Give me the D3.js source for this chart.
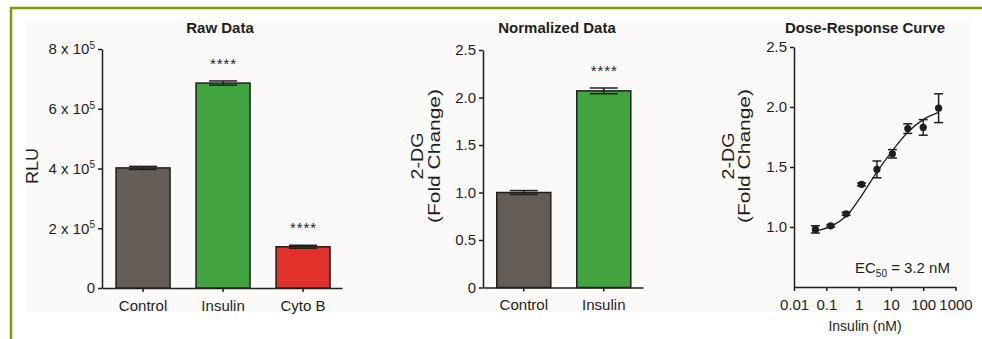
<!DOCTYPE html>
<html>
<head>
<meta charset="utf-8">
<script src="https://cdn.jsdelivr.net/npm/d3@7"></script>
<style>
body{margin:0;background:#fff;}
text{font-family:"Liberation Sans",Arial,sans-serif;fill:#1e1e1e;}
.axis path,.axis line{stroke:#1e1e1e;stroke-width:1.5px;}
</style>
</head>
<body>
<svg id="fig" width="982" height="339"></svg>
<script>
// panel 1 - raw data
const rawCats=["Control","Insulin","Cyto B"];
const rawVals=[402000,686000,138000];
const rawErr=[5000,7000,5000];
const rawStars=["","****","****"];
const rawTicks=[0,200000,400000,600000,800000];
// panel 2 - normalized
const normCats=["Control","Insulin"];
const normVals=[1.0,2.07];
const normErr=[0.02,0.03];
const normStars=["","****"];
const normTicks=[0,0.5,1.0,1.5,2.0,2.5];
// panel 3 - dose response
const doses=[0.046,0.137,0.41,1.23,3.7,11.1,33.3,100,300];
const doseMeans=[0.98,1.01,1.11,1.355,1.48,1.61,1.82,1.83,1.99];
const doseErr=[0.03,0.01,0.012,0.012,0.07,0.035,0.04,0.065,0.12];
const fitDoses=[0.046,0.137,0.41,1.23,3.7,11.1,33.3,100,300];
const fitVals=[0.965,1.005,1.09,1.26,1.46,1.635,1.79,1.895,1.955];
const doseTicks=[0.01,0.1,1,10,100,1000];
const doseYTicks=[1.0,1.5,2.0,2.5];

const barColors={"Control":"#635c57","Insulin":"#41a43e","Cyto B":"#e1312a"};

const svg=d3.select("#fig");

// frame
svg.append("rect").attr("x",26).attr("y",20).attr("width",944).attr("height",292).attr("fill","#fbfaf8");
svg.append("line").attr("x1",10).attr("x2",982).attr("y1",8).attr("y2",8).attr("stroke","#7a9c06").attr("stroke-width",2.5);
svg.append("line").attr("x1",11).attr("x2",11).attr("y1",7).attr("y2",339).attr("stroke","#7a9c06").attr("stroke-width",2.5);

function barPanel(opt){
  const g=svg.append("g");
  const x=d3.scaleBand().domain(opt.cats).range(opt.xr).paddingInner(0.325).paddingOuter(0.1625).align(opt.align);
  const y=d3.scaleLinear().domain(opt.yd).range(opt.yr);

  const xa=g.append("g").attr("class","axis").attr("transform","translate(0,"+opt.yr[0]+")")
    .call(d3.axisBottom(x).tickSize(4).tickSizeOuter(0));
  xa.selectAll("text").attr("font-size",15).attr("dy","1.05em");
  const ya=g.append("g").attr("class","axis").attr("transform","translate("+opt.xr[0]+",0)")
    .call(d3.axisLeft(y).tickValues(opt.ticks).tickSize(4).tickSizeOuter(0).tickFormat(opt.fmt));
  ya.selectAll("text").attr("font-size",15).attr("x",-7);
  if(opt.sup){
    ya.selectAll("text").each(function(d){
      if(d===0) return;
      const t=d3.select(this).text("");
      t.append("tspan").text((d/1e5)+" x 10");
      t.append("tspan").text("5").attr("font-size",10).attr("dy","-0.55em");
    });
  }

  opt.cats.forEach(function(c,i){
    const bx=x(c), bw=x.bandwidth(), cx=bx+bw/2;
    g.append("rect").attr("x",bx).attr("y",y(opt.vals[i])).attr("width",bw)
      .attr("height",y(0)-y(opt.vals[i])).attr("fill",barColors[c]).attr("stroke","#1e1e1e").attr("stroke-width",1.5);
    const e=opt.errs[i], cw=14;
    g.append("line").attr("x1",cx).attr("x2",cx).attr("y1",y(opt.vals[i]-e)).attr("y2",y(opt.vals[i]+e)).attr("stroke","#1e1e1e").attr("stroke-width",1.5);
    [opt.vals[i]-e,opt.vals[i]+e].forEach(function(v){
      g.append("line").attr("x1",cx-cw).attr("x2",cx+cw).attr("y1",y(v)).attr("y2",y(v)).attr("stroke","#1e1e1e").attr("stroke-width",1.5);
    });
    if(opt.stars[i]){
      g.append("text").attr("x",cx).attr("y",y(opt.vals[i]+e)-12).attr("text-anchor","middle")
        .attr("font-size",15).attr("textLength",26).attr("lengthAdjust","spacing").text(opt.stars[i]);
    }
  });

  g.append("text").attr("x",opt.titleX).attr("y",33).attr("text-anchor","middle")
    .attr("font-size",15).attr("font-weight","bold").text(opt.title);
  return g;
}

barPanel({cats:rawCats,vals:rawVals,errs:rawErr,stars:rawStars,ticks:rawTicks,
  xr:[102,342],yr:[288,49],yd:[0,800000],align:0.54,sup:true,
  fmt:function(d){return d===0?"0":d;},title:"Raw Data",titleX:220});

barPanel({cats:normCats,vals:normVals,errs:normErr,stars:normStars,ticks:normTicks,
  xr:[483,643],yr:[287.5,50],yd:[0,2.5],align:0.53,sup:false,
  fmt:function(d){return d===0?"0":d3.format(".1f")(d);},title:"Normalized Data",titleX:557});

// y titles
svg.append("text").attr("transform","translate(38,166) rotate(-90)").attr("text-anchor","middle")
  .attr("font-size",16).attr("textLength",36).attr("lengthAdjust","spacingAndGlyphs").text("RLU");
[[423,440],[734,750]].forEach(function(p){
  svg.append("text").attr("transform","translate("+p[0]+",156) rotate(-90)").attr("text-anchor","middle")
    .attr("font-size",16).attr("textLength",47).attr("lengthAdjust","spacingAndGlyphs").text("2-DG");
  svg.append("text").attr("transform","translate("+p[1]+",156) rotate(-90)").attr("text-anchor","middle")
    .attr("font-size",16).attr("textLength",134).attr("lengthAdjust","spacingAndGlyphs").text("(Fold Change)");
});

// panel 3
const g3=svg.append("g");
const x3=d3.scaleLog().domain([0.01,1000]).range([794,955.5]);
const y3=d3.scaleLinear().domain([0.5,2.5]).range([287,47]);
const xa3=g3.append("g").attr("class","axis").attr("transform","translate(0,287)")
  .call(d3.axisBottom(x3).tickValues(doseTicks).tickSize(4).tickSizeOuter(0).tickFormat(function(d){return String(d);}));
xa3.selectAll("text").attr("font-size",15).attr("dy","1.05em");
const ya3=g3.append("g").attr("class","axis").attr("transform","translate(794,0)")
  .call(d3.axisLeft(y3).tickValues(doseYTicks).tickSize(4).tickSizeOuter(0).tickFormat(d3.format(".1f")));
ya3.selectAll("text").attr("font-size",15).attr("x",-7);

const fitLine=d3.line().x(function(d){return x3(d[0]);}).y(function(d){return y3(d[1]);}).curve(d3.curveCatmullRom.alpha(0.5));
g3.append("path").datum(d3.zip(fitDoses,fitVals)).attr("d",fitLine).attr("fill","none").attr("stroke","#1e1e1e").attr("stroke-width",1.3);

doses.forEach(function(d,i){
  const cx=x3(d), m=doseMeans[i], e=doseErr[i];
  g3.append("line").attr("x1",cx).attr("x2",cx).attr("y1",y3(m-e)).attr("y2",y3(m+e)).attr("stroke","#1e1e1e").attr("stroke-width",1.5);
  [m-e,m+e].forEach(function(v){
    g3.append("line").attr("x1",cx-4.5).attr("x2",cx+4.5).attr("y1",y3(v)).attr("y2",y3(v)).attr("stroke","#1e1e1e").attr("stroke-width",1.5);
  });
  g3.append("circle").attr("cx",cx).attr("cy",y3(m)).attr("r",3.6).attr("fill","#1e1e1e");
});

const ec=g3.append("text").attr("x",855).attr("y",273).attr("font-size",15);
ec.append("tspan").text("EC");
ec.append("tspan").text("50").attr("font-size",10).attr("dy","0.35em");
ec.append("tspan").text(" = 3.2 nM").attr("dy","-0.23em");

g3.append("text").attr("x",865).attr("y",331).attr("text-anchor","middle").attr("font-size",14).text("Insulin (nM)");
g3.append("text").attr("x",865).attr("y",33).attr("text-anchor","middle").attr("font-size",15).attr("font-weight","bold").text("Dose-Response Curve");
</script>
</body>
</html>
